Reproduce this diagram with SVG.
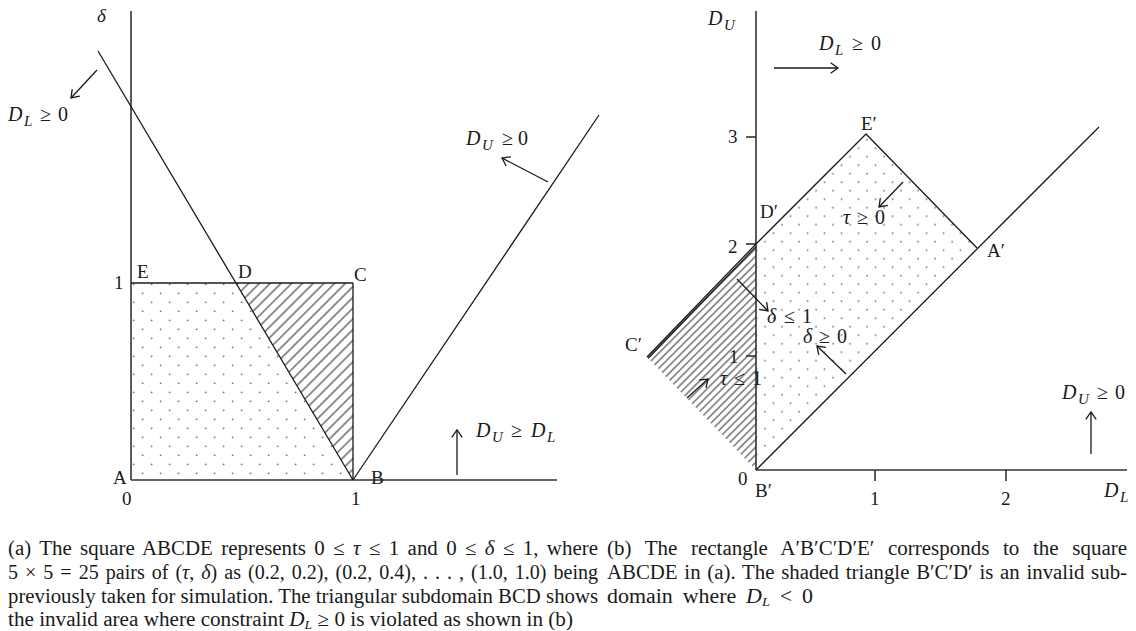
<svg xmlns="http://www.w3.org/2000/svg" width="1136" height="631" viewBox="0 0 1136 631">
<style>
  .ln{stroke:#1a1a1a;stroke-width:1.3;fill:none}
  .ax{stroke:#333;stroke-width:1.6;fill:none}
  .ar{stroke:#1a1a1a;stroke-width:1.3;fill:none;marker-end:url(#ah)}
  text{font-family:"Liberation Serif","Times New Roman",serif;fill:#1a1a1a}
  .lb{font-size:19px}
  .m{font-size:20px}
  .i{font-style:italic}
  .cap{font-size:20px}
</style>
<defs>
  <marker id="ah" markerUnits="userSpaceOnUse" markerWidth="12" markerHeight="14" viewBox="0 0 12 14" refX="9.4" refY="7" orient="auto">
    <path d="M2,1.8 L9.4,7 L2,12.2" fill="none" stroke="#1a1a1a" stroke-width="1.3"/>
  </marker>
  <pattern id="dotsL" patternUnits="userSpaceOnUse" x="138.2" y="288.8" width="18" height="18">
    <circle cx="4.5" cy="4.5" r="0.8" fill="#3a3a3a"/>
    <circle cx="13.5" cy="13.5" r="0.8" fill="#3a3a3a"/>
  </pattern>
  <pattern id="dotsR" patternUnits="userSpaceOnUse" x="760.75" y="237.45" width="17" height="17">
    <circle cx="4.25" cy="4.25" r="0.8" fill="#3a3a3a"/>
    <circle cx="12.75" cy="12.75" r="0.8" fill="#3a3a3a"/>
  </pattern>
  <pattern id="hatchL" patternUnits="userSpaceOnUse" width="20" height="7.6" patternTransform="rotate(-45)">
    <line x1="0" y1="3.8" x2="20" y2="3.8" stroke="#222" stroke-width="1"/>
  </pattern>
  <pattern id="hatchR" patternUnits="userSpaceOnUse" width="20" height="5.4" patternTransform="rotate(-45)">
    <line x1="0" y1="2.7" x2="20" y2="2.7" stroke="#222" stroke-width="0.95"/>
  </pattern>
</defs>
<rect width="1136" height="631" fill="#fff"/>

<!-- Panel (a) -->
<g id="panel-a">
  <g id="a-regions">
    <polygon points="131,283 236,283 353,480 131,480" fill="url(#dotsL)"/>
    <polygon points="236,283 353,283 353,480" fill="url(#hatchL)"/>
  </g>
  <g id="a-axes">
    <line class="ax" x1="131" y1="11" x2="131" y2="480"/>
    <line class="ax" x1="131" y1="480" x2="557" y2="480"/>
  </g>
  <g id="a-lines">
    <line class="ln" x1="131" y1="283" x2="353" y2="283"/>
    <line class="ln" x1="353" y1="283" x2="353" y2="480"/>
    <line class="ln" x1="98" y1="51" x2="353" y2="480"/>
    <line class="ln" x1="353" y1="480" x2="599" y2="115"/>
  </g>
  <g id="a-arrows">
    <line class="ar" x1="97" y1="70" x2="71" y2="98"/>
    <line class="ar" x1="548" y1="182" x2="502" y2="158"/>
    <line class="ar" x1="457" y1="475" x2="457" y2="430"/>
  </g>
  <g id="a-labels">
    <text class="lb i" x="97" y="22" font-size="20">δ</text>
    <text class="lb" x="137" y="278">E</text>
    <text class="lb" x="238" y="278">D</text>
    <text class="lb" x="354" y="281">C</text>
    <text class="lb" x="114" y="289">1</text>
    <text class="lb" x="113" y="484">A</text>
    <text class="lb" x="371" y="484">B</text>
    <text class="lb" x="122" y="505">0</text>
    <text class="lb" x="351" y="505">1</text>
    <text class="m" y="121"><tspan class="i" x="8">D</tspan><tspan class="i" font-size="15" x="24" dy="5">L</tspan><tspan x="40" dy="-5">≥</tspan><tspan x="58">0</tspan></text>
    <text class="m" y="145"><tspan class="i" x="466">D</tspan><tspan class="i" font-size="15" x="482" dy="5">U</tspan><tspan x="502" dy="-5">≥</tspan><tspan x="518">0</tspan></text>
    <text class="m" y="437"><tspan class="i" x="476">D</tspan><tspan class="i" font-size="15" x="492" dy="5">U</tspan><tspan x="511" dy="-5">≥</tspan><tspan class="i" x="531">D</tspan><tspan class="i" font-size="15" x="547" dy="5">L</tspan></text>
  </g>
</g>

<!-- Panel (b) -->
<g id="panel-b">
  <g id="b-regions">
    <polygon points="756,244 866,134 977,248 756,470" fill="url(#dotsR)"/>
    <polygon points="756,244 647,357 756,470" fill="url(#hatchR)"/>
  </g>
  <g id="b-axes">
    <line class="ax" x1="756" y1="11" x2="756" y2="470"/>
    <line class="ax" x1="756" y1="470" x2="1127" y2="470"/>
    <line class="ax" x1="746" y1="137" x2="756" y2="137"/>
    <line class="ax" x1="746" y1="244" x2="756" y2="244"/>
    <line class="ax" x1="746" y1="356" x2="756" y2="356"/>
    <line class="ax" x1="875" y1="470" x2="875" y2="481"/>
    <line class="ax" x1="1006" y1="470" x2="1006" y2="481"/>
  </g>
  <g id="b-lines">
    <polyline class="ln" points="647,357 756,244 866,134 977,248"/>
    <line class="ln" x1="648.3" y1="358.3" x2="756" y2="246.6"/>
    <line class="ln" x1="756" y1="470" x2="1099" y2="127"/>
  </g>
  <g id="b-arrows">
    <line class="ar" x1="774" y1="68" x2="838" y2="68"/>
    <line class="ar" x1="903" y1="182" x2="879" y2="207"/>
    <line class="ar" x1="737" y1="279" x2="768" y2="311"/>
    <line class="ar" x1="846" y1="374" x2="817" y2="346"/>
    <line class="ar" x1="687" y1="398" x2="708" y2="379"/>
    <line class="ar" x1="1091" y1="454" x2="1091" y2="412"/>
  </g>
  <g id="b-labels">
    <text class="lb" x="728" y="143">3</text>
    <text class="lb" x="728" y="253">2</text>
    <text class="lb" x="729" y="363">1</text>
    <text class="lb" x="738" y="485">0</text>
    <text class="lb" x="755" y="497">B′</text>
    <text class="lb" x="870" y="505">1</text>
    <text class="lb" x="1001" y="505">2</text>
    <text class="lb" x="760" y="218">D′</text>
    <text class="lb" x="861" y="130">E′</text>
    <text class="lb" x="987" y="257">A′</text>
    <text class="lb" x="625" y="351">C′</text>
    <text class="m" y="25"><tspan class="i" x="708">D</tspan><tspan class="i" font-size="15" x="724" dy="5">U</tspan></text>
    <text class="m" y="497"><tspan class="i" x="1104">D</tspan><tspan class="i" font-size="15" x="1120" dy="5">L</tspan></text>
    <text class="m" y="50"><tspan class="i" x="819">D</tspan><tspan class="i" font-size="15" x="835" dy="5">L</tspan><tspan x="852" dy="-5">≥</tspan><tspan x="871">0</tspan></text>
    <text class="m" y="224"><tspan class="i" x="843">τ</tspan><tspan x="857">≥</tspan><tspan x="875">0</tspan></text>
    <text class="m" y="323"><tspan class="i" x="767">δ</tspan><tspan x="784">≤</tspan><tspan x="802">1</tspan></text>
    <text class="m" y="343"><tspan class="i" x="803">δ</tspan><tspan x="819">≥</tspan><tspan x="837">0</tspan></text>
    <text class="m" y="385"><tspan class="i" x="720">τ</tspan><tspan x="734">≤</tspan><tspan x="752">1</tspan></text>
    <text class="m" y="399"><tspan class="i" x="1062">D</tspan><tspan class="i" font-size="15" x="1078" dy="5">U</tspan><tspan x="1097" dy="-5">≥</tspan><tspan x="1115">0</tspan></text>
  </g>
</g>

<!-- Captions -->
<g id="caption-a">
  <text class="cap" x="8" y="555" textLength="590" lengthAdjust="spacingAndGlyphs" word-spacing="3">(a) The square ABCDE represents 0 ≤ <tspan class="i">τ</tspan> ≤ 1 and 0 ≤ <tspan class="i">δ</tspan> ≤ 1, where</text>
  <text class="cap" x="8" y="579" textLength="590" lengthAdjust="spacingAndGlyphs" word-spacing="2">5 × 5 = 25 pairs of (<tspan class="i">τ</tspan>, <tspan class="i">δ</tspan>) as (0.2, 0.2), (0.2, 0.4), . . . , (1.0, 1.0) being</text>
  <text class="cap" x="8" y="603" textLength="590" lengthAdjust="spacingAndGlyphs">previously taken for simulation. The triangular subdomain BCD shows</text>
  <text class="cap" x="8" y="626" textLength="565" lengthAdjust="spacingAndGlyphs">the invalid area where constraint <tspan class="i">D</tspan><tspan class="i" font-size="13" dy="3">L</tspan><tspan dy="-3"> ≥ 0 is violated as shown in (b)</tspan></text>
</g>
<g id="caption-b">
  <text class="cap" x="607" y="555" textLength="520" lengthAdjust="spacingAndGlyphs" word-spacing="8">(b) The rectangle A′B′C′D′E′ corresponds to the square</text>
  <text class="cap" x="607" y="579" textLength="520" lengthAdjust="spacingAndGlyphs" word-spacing="1.5">ABCDE in (a). The shaded triangle B′C′D′ is an invalid sub-</text>
  <text class="cap" x="607" y="603" textLength="206" lengthAdjust="spacingAndGlyphs" word-spacing="4">domain where <tspan class="i">D</tspan><tspan class="i" font-size="13" dy="3">L</tspan><tspan dy="-3"> &lt; 0</tspan></text>
</g>
</svg>
